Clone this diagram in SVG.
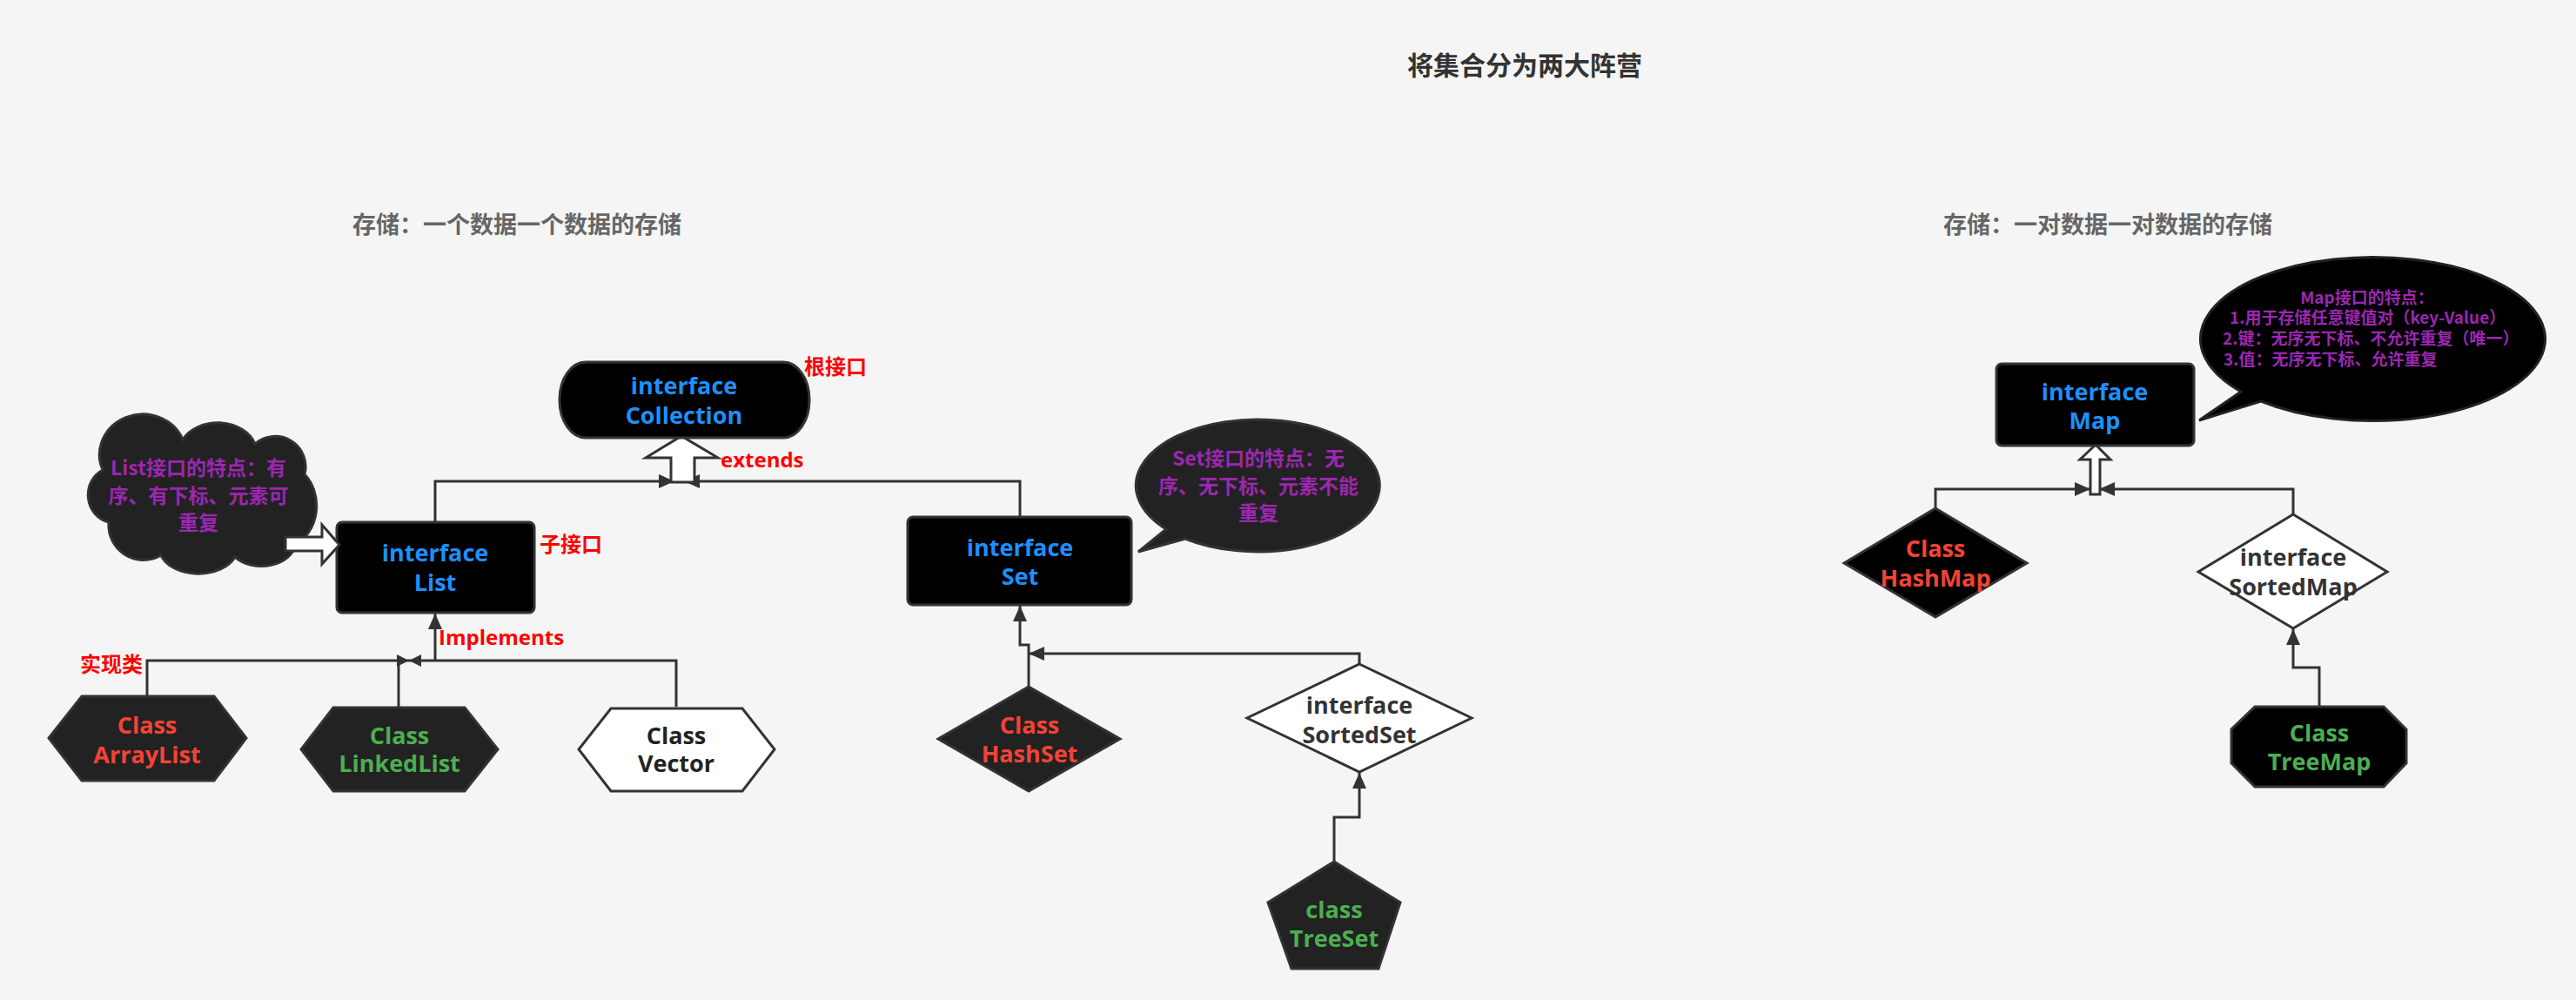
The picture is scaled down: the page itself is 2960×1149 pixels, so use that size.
<svg xmlns="http://www.w3.org/2000/svg" width="2960" height="1149" viewBox="0 0 2960 1149">
<defs>
<style>
.bg{fill:#f5f5f5}
.t{font-family:"Open Sans","Noto Sans CJK SC",sans-serif;font-weight:bold;text-anchor:middle}
.lt{font-family:"Open Sans","Noto Sans CJK SC",sans-serif;font-weight:bold;text-anchor:start}
.cjk{font-family:"Noto Sans CJK SC","Open Sans",sans-serif;font-weight:bold}
.node{font-size:27px}
.blue{fill:#1e90ff}
.red{fill:#f44336}
.green{fill:#4caf50}
.dark{fill:#222}
.purple{fill:#9c27b0}
.lbl{font-size:24px;fill:#ff0000}
.box{fill:#000;stroke:#333;stroke-width:3}
.dk{fill:#222;stroke:#333;stroke-width:3}
.wh{fill:#fff;stroke:#333;stroke-width:3}
.ln{fill:none;stroke:#333;stroke-width:3}
.hd{fill:#333}
</style>
<marker id="ah" viewBox="0 0 18 16" refX="18" refY="8" markerWidth="18" markerHeight="16" markerUnits="userSpaceOnUse" orient="auto">
<path d="M0,0 L18,8 L0,16 Z" fill="#333"/>
</marker>
</defs>
<rect class="bg" x="0" y="0" width="2960" height="1149"/>

<g id="titles">
<text class="cjk" x="1752" y="86" font-size="30" fill="#333" text-anchor="middle">将集合分为两大阵营</text>
<text class="cjk" x="594" y="268" font-size="27" fill="#666" text-anchor="middle">存储：一个数据一个数据的存储</text>
<text class="cjk" x="2422" y="268" font-size="27" fill="#666" text-anchor="middle">存储：一对数据一对数据的存储</text>
</g>

<g id="connectors">
<path class="ln" d="M500,600 V553 H775" marker-end="url(#ah)"/>
<path class="ln" d="M1172,594 V553 H786" marker-end="url(#ah)"/>
<path d="M783,501 L825,526 L798,526 L798,554 L771,554 L771,526 L742,526 Z" fill="#fff" stroke="#333" stroke-width="3"/>
<path class="ln" d="M169,800 V759 H777 V812"/>
<path class="ln" d="M458,812 V759"/>
<path class="ln" d="M500,759 V705" marker-end="url(#ah)"/>
<polygon class="hd" points="456,752 470,759 456,766"/>
<polygon class="hd" points="484,752 470,759 484,766"/>
<path class="ln" d="M1182,789 V741 H1172 V696" marker-end="url(#ah)"/>
<path class="ln" d="M1562,763 V751 H1182" marker-end="url(#ah)"/>
<path class="ln" d="M1533,990 V939 H1562 V888" marker-end="url(#ah)"/>
<path class="ln" d="M2224,584 V562 H2402" marker-end="url(#ah)"/>
<path class="ln" d="M2635,591 V562 H2412" marker-end="url(#ah)"/>
<path d="M2408,511 L2425,528 L2413,528 L2413,568 L2402,568 L2402,528 L2390,528 Z" fill="#fff" stroke="#333" stroke-width="3"/>
<path class="ln" d="M2665,812 V767 H2635 V723" marker-end="url(#ah)"/>
</g>

<g id="collection">
<rect class="box" x="643" y="416" width="287" height="87" rx="30" ry="43"/>
<text class="t node blue" x="786" y="453">interface</text>
<text class="t node blue" x="786" y="487">Collection</text>
</g>
<g id="label-root"><text class="cjk lbl" x="924" y="430">根接口</text></g>
<g id="label-extends"><text class="lt lbl" x="828" y="537">extends</text></g>

<g id="list">
<rect class="box" x="387" y="600" width="227" height="104" rx="6"/>
<text class="t node blue" x="500" y="645">interface</text>
<text class="t node blue" x="500" y="679">List</text>
</g>
<g id="label-sub"><text class="cjk lbl" x="620" y="634">子接口</text></g>
<g id="label-impl"><text class="lt lbl" x="504" y="741">Implements</text></g>
<g id="label-class"><text class="cjk lbl" x="92" y="772">实现类</text></g>

<g id="list-note">
<path class="dk" d="M118,540 A48,45 0 0 1 210,505 A45,35 0 0 1 293,510 A35,35 0 0 1 350,545 A40,48 0 0 1 340,625 A40,30 0 0 1 270,640 A45,30 0 0 1 185,638 A40,40 0 0 1 125,600 A30,32 0 0 1 118,540 Z"/>
<text class="cjk purple" font-size="23" text-anchor="middle" x="228" y="546">List接口的特点：有</text>
<text class="cjk purple" font-size="23" text-anchor="middle" x="228" y="578">序、有下标、元素可</text>
<text class="cjk purple" font-size="23" text-anchor="middle" x="228" y="609">重复</text>
</g>
<path d="M328,617 L370,617 L370,603 L390,626 L370,648 L370,633 L328,633 Z" fill="#fff" stroke="#333" stroke-width="3"/>

<g id="arraylist">
<polygon class="dk" points="94,800 246,800 283,848 246,897 94,897 56,848"/>
<text class="t node red" x="169" y="843">Class</text>
<text class="t node red" x="169" y="877">ArrayList</text>
</g>
<g id="linkedlist">
<polygon class="dk" points="383,813 534,813 572,861 534,909 383,909 346,861"/>
<text class="t node green" x="459" y="855">Class</text>
<text class="t node green" x="459" y="887">LinkedList</text>
</g>
<g id="vector">
<polygon class="wh" points="702,814 853,814 890,861 853,909 702,909 665,861"/>
<text class="t node dark" x="777" y="855">Class</text>
<text class="t node dark" x="777" y="887">Vector</text>
</g>

<g id="set">
<rect class="box" x="1043" y="594" width="257" height="101" rx="6"/>
<text class="t node blue" x="1172" y="639">interface</text>
<text class="t node blue" x="1172" y="672">Set</text>
</g>
<g id="set-note">
<path class="dk" d="M1340,608 L1308,634 L1362,619 A140,76 0 1 0 1340,608 Z"/>
<text class="cjk purple" font-size="23" text-anchor="middle" x="1446" y="535">Set接口的特点：无</text>
<text class="cjk purple" font-size="23" text-anchor="middle" x="1446" y="567">序、无下标、元素不能</text>
<text class="cjk purple" font-size="23" text-anchor="middle" x="1446" y="598">重复</text>
</g>
<g id="hashset">
<polygon class="dk" points="1182,789 1287,849 1182,909 1078,849"/>
<text class="t node red" x="1183" y="843">Class</text>
<text class="t node red" x="1183" y="876">HashSet</text>
</g>
<g id="sortedset">
<polygon class="wh" points="1562,763 1691,825 1562,887 1433,825"/>
<text class="t node" fill="#333" x="1562" y="820">interface</text>
<text class="t node" fill="#333" x="1562" y="854">SortedSet</text>
</g>
<g id="treeset">
<polygon class="dk" points="1533,990 1609,1037 1584,1113 1484,1113 1457,1037"/>
<text class="t node green" x="1533" y="1055">class</text>
<text class="t node green" x="1533" y="1088">TreeSet</text>
</g>

<g id="map">
<rect class="box" x="2294" y="418" width="227" height="94" rx="6"/>
<text class="t node blue" x="2407" y="460">interface</text>
<text class="t node blue" x="2407" y="493">Map</text>
</g>
<g id="map-note">
<path d="M2575,450 L2527,483 L2598,461 A198,94 0 1 0 2575,450 Z" fill="#000" stroke="#222" stroke-width="3"/>
<text class="cjk purple" font-size="19" text-anchor="middle" x="2720" y="349">Map接口的特点：</text>
<text class="cjk purple" font-size="19" x="2562" y="372">1.用于存储任意键值对（key-Value）</text>
<text class="cjk purple" font-size="19" x="2554" y="396">2.键：无序无下标、不允许重复（唯一）</text>
<text class="cjk purple" font-size="19" x="2555" y="420">3.值：无序无下标、允许重复</text>
</g>
<g id="hashmap">
<polygon class="box" points="2224,584 2329,647 2224,709 2119,647"/>
<text class="t node red" x="2224" y="640">Class</text>
<text class="t node red" x="2224" y="674">HashMap</text>
</g>
<g id="sortedmap">
<polygon class="wh" points="2635,591 2743,657 2635,722 2526,657"/>
<text class="t node" fill="#333" x="2635" y="650">interface</text>
<text class="t node" fill="#333" x="2635" y="684">SortedMap</text>
</g>
<g id="treemap">
<polygon class="box" points="2591,812 2739,812 2765,838 2765,877 2739,904 2591,904 2564,877 2564,838"/>
<text class="t node green" x="2665" y="852">Class</text>
<text class="t node green" x="2665" y="885">TreeMap</text>
</g>
</svg>
